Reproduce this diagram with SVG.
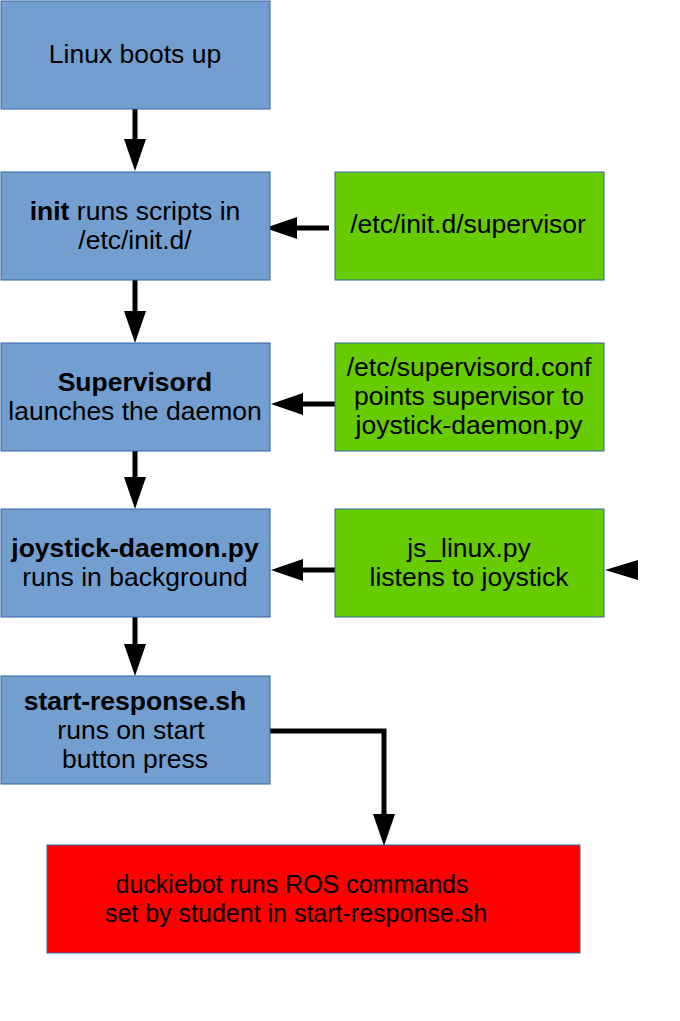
<svg xmlns="http://www.w3.org/2000/svg" width="680" height="1021" viewBox="0 0 680 1021">
<style>
.blue{fill:#729fcf;stroke:#3465a4;stroke-width:1}
.green{fill:#66cc00;stroke:#3465a4;stroke-width:1}
.red{fill:#ff0000;stroke:#3465a4;stroke-width:1}
text{font-family:"Liberation Sans",Arial,sans-serif;font-size:26.5px;fill:#000;text-anchor:middle}
.s{font-size:25px}
.b{font-weight:bold}
.line{stroke:#000;stroke-width:5;fill:none}
</style>
<defs>
<marker id="ah" markerWidth="6.4" markerHeight="4.4" refX="0" refY="2.2" orient="auto" markerUnits="strokeWidth">
<path d="M0,0 L6.4,2.2 L0,4.4 Z" fill="#000"/>
</marker>
</defs>
<g id="connectors">
<line class="line" x1="135" y1="109" x2="135" y2="139" marker-end="url(#ah)"/>
<line class="line" x1="135" y1="280" x2="135" y2="311" marker-end="url(#ah)"/>
<line class="line" x1="135" y1="451" x2="135" y2="477" marker-end="url(#ah)"/>
<line class="line" x1="135" y1="617" x2="135" y2="644" marker-end="url(#ah)"/>
<line class="line" x1="329" y1="228" x2="297" y2="228" marker-end="url(#ah)"/>
<line class="line" x1="335" y1="404" x2="303" y2="404" marker-end="url(#ah)"/>
<line class="line" x1="335" y1="570" x2="303" y2="570" marker-end="url(#ah)"/>
<path d="M638,560 L605,570 L638,580 Z" fill="#000"/>
<polyline class="line" points="270,731 384,731 384,814" marker-end="url(#ah)"/>
</g>
<g id="n1"><rect class="blue" x="1" y="1" width="269" height="108"/><text x="135" y="63">Linux boots up</text></g>
<g id="n2"><rect class="blue" x="1" y="172" width="269" height="108"/><text x="135" y="220"><tspan class="b">init</tspan> runs scripts in</text><text x="135" y="249">/etc/init.d/</text></g>
<g id="n3"><rect class="blue" x="1" y="343" width="269" height="108"/><text class="b" x="135" y="391">Supervisord</text><text x="135" y="420">launches the daemon</text></g>
<g id="n4"><rect class="blue" x="1" y="509" width="269" height="108"/><text class="b" x="135" y="557">joystick-daemon.py</text><text x="135" y="586">runs in background</text></g>
<g id="n5"><rect class="blue" x="1" y="676" width="269" height="108"/><text class="b" x="135" y="710">start-response.sh</text><text x="131" y="739">runs on start</text><text x="135" y="768">button press</text></g>
<g id="g1"><rect class="green" x="335" y="172" width="269" height="108"/><text x="468" y="233">/etc/init.d/supervisor</text></g>
<g id="g2"><rect class="green" x="335" y="343" width="269" height="108"/><text x="469" y="376">/etc/supervisord.conf</text><text x="469" y="405">points supervisor to</text><text x="469" y="434">joystick-daemon.py</text></g>
<g id="g3"><rect class="green" x="335" y="509" width="269" height="108"/><text x="469" y="557">js_linux.py</text><text x="469" y="586">listens to joystick</text></g>
<g id="r1"><rect class="red" x="47" y="845" width="533" height="108"/><text class="s" x="292" y="893">duckiebot runs ROS commands</text><text class="s" x="296" y="922">set by student in start-response.sh</text></g>
</svg>
